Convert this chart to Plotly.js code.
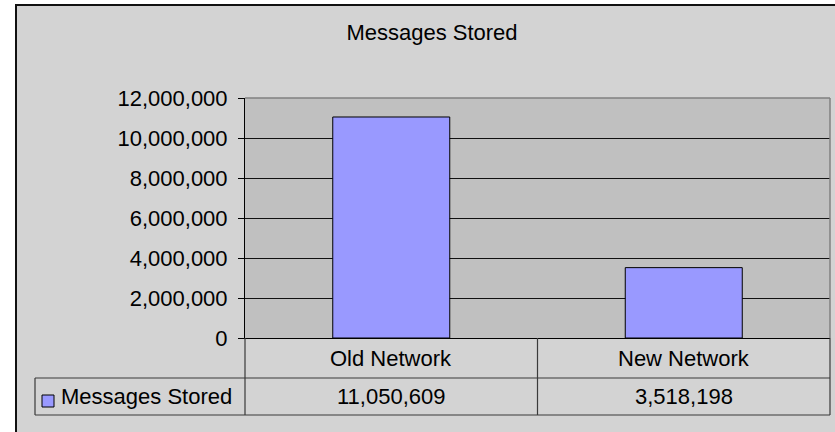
<!DOCTYPE html>
<html>
<head>
<meta charset="utf-8">
<script src="https://cdn.plot.ly/plotly-3.0.1.min.js"></script>
<style>html,body{margin:0;padding:0;background:#fff;}#chart{width:835px;height:432px;}</style>
</head>
<body>
<div id="chart"></div>
<script>
const chartTitle = 'Messages Stored';
const categories = ['Old Network', 'New Network'];
const seriesName = 'Messages Stored';
const values = [11050609, 3518198];
const yRange = [0, 12000000];
const yStep = 2000000;

const W = 835, H = 432, L = 245, R = 830, T = 98, B = 338;
const px = x => (x - L) / (R - L);
const py = y => (B - y) / (B - T);
const FONT = 'Liberation Sans, Arial, sans-serif';
const FS = 22;
const lineCol = '#3a3a3a';

const fmt = v => v.toLocaleString('en-US');

const shapes = [
  {type:'rect', xref:'paper', yref:'paper', x0:px(16), x1:px(860), y0:py(5), y1:py(460),
   fillcolor:'#D3D3D3', line:{color:'#111', width:2}, layer:'below'},
  {type:'rect', xref:'paper', yref:'paper', x0:px(L), x1:px(R), y0:py(T), y1:py(B),
   fillcolor:'#C0C0C0', line:{width:0}, layer:'below'},
  {type:'line', xref:'paper', yref:'paper', x0:px(L), x1:px(R), y0:py(T), y1:py(T), line:{color:'#808080', width:1.5}},
  {type:'line', xref:'paper', yref:'paper', x0:px(R), x1:px(R), y0:py(T), y1:py(B), line:{color:'#808080', width:1.5}},
  {type:'line', xref:'paper', yref:'paper', x0:px(35), x1:px(R), y0:py(378), y1:py(378), line:{color:lineCol, width:1.2}},
  {type:'line', xref:'paper', yref:'paper', x0:px(35), x1:px(R), y0:py(415), y1:py(415), line:{color:lineCol, width:1.2}},
  {type:'line', xref:'paper', yref:'paper', x0:px(35), x1:px(35), y0:py(378), y1:py(415), line:{color:lineCol, width:1.2}},
  {type:'line', xref:'paper', yref:'paper', x0:px(L), x1:px(L), y0:py(B), y1:py(415), line:{color:lineCol, width:1.2}},
  {type:'line', xref:'paper', yref:'paper', x0:px(R), x1:px(R), y0:py(B), y1:py(415), line:{color:lineCol, width:1.2}},
  {type:'rect', xref:'paper', yref:'paper', x0:px(42), x1:px(54), y0:py(395), y1:py(407),
   fillcolor:'#9999FF', line:{color:'#000', width:1}}
];
for (let i = 0; i < categories.length - 1; i++) {
  shapes.push({type:'line', xref:'x', yref:'paper', x0:i + 0.5, x1:i + 0.5, y0:py(B), y1:py(415), line:{color:lineCol, width:1.2}});
}

const annotations = [];
categories.forEach((c, i) => {
  annotations.push({xref:'x', yref:'paper', x:i, y:py(358), text:c, showarrow:false,
    xanchor:'center', yanchor:'middle', font:{family:FONT, size:FS, color:'#000'}});
  annotations.push({xref:'x', yref:'paper', x:i, y:py(396.5), text:fmt(values[i]), showarrow:false,
    xanchor:'center', yanchor:'middle', font:{family:FONT, size:FS, color:'#000'}});
});
annotations.push({xref:'paper', yref:'paper', x:px(59), y:py(396.5), text:seriesName, showarrow:false,
  xanchor:'left', yanchor:'middle', font:{family:FONT, size:FS, color:'#000'}});

const trace = {
  type:'bar', x:[0, 1], y:values, name:seriesName, width:0.4,
  marker:{color:'#9999FF', line:{color:'#000', width:1}},
  hoverinfo:'none'
};

const layout = {
  width:W, height:H,
  margin:{l:L, r:W - R, t:T, b:H - B, pad:0},
  paper_bgcolor:'#FFFFFF', plot_bgcolor:'rgba(0,0,0,0)',
  showlegend:false,
  title:{text:chartTitle, x:432 / W, xref:'container', xanchor:'center',
    y:1 - 32 / H, yref:'container', yanchor:'middle', font:{family:FONT, size:FS, color:'#000'}},
  xaxis:{range:[-0.5, categories.length - 0.5], showticklabels:false, showgrid:false, zeroline:false,
    showline:true, linecolor:'#000', linewidth:1, ticks:'', fixedrange:true},
  yaxis:{range:yRange, dtick:yStep, tick0:0, tickformat:',d', showgrid:true, gridcolor:'#111', gridwidth:1,
    zeroline:false, showline:true, linecolor:'#000', linewidth:1, ticks:'outside', ticklen:6, tickcolor:'#000',
    tickfont:{family:FONT, size:FS, color:'#000'}, ticklabelstandoff:6, fixedrange:true},
  shapes:shapes, annotations:annotations
};

Plotly.newPlot('chart', [trace], layout, {staticPlot:true, displayModeBar:false});
</script>
</body>
</html>
